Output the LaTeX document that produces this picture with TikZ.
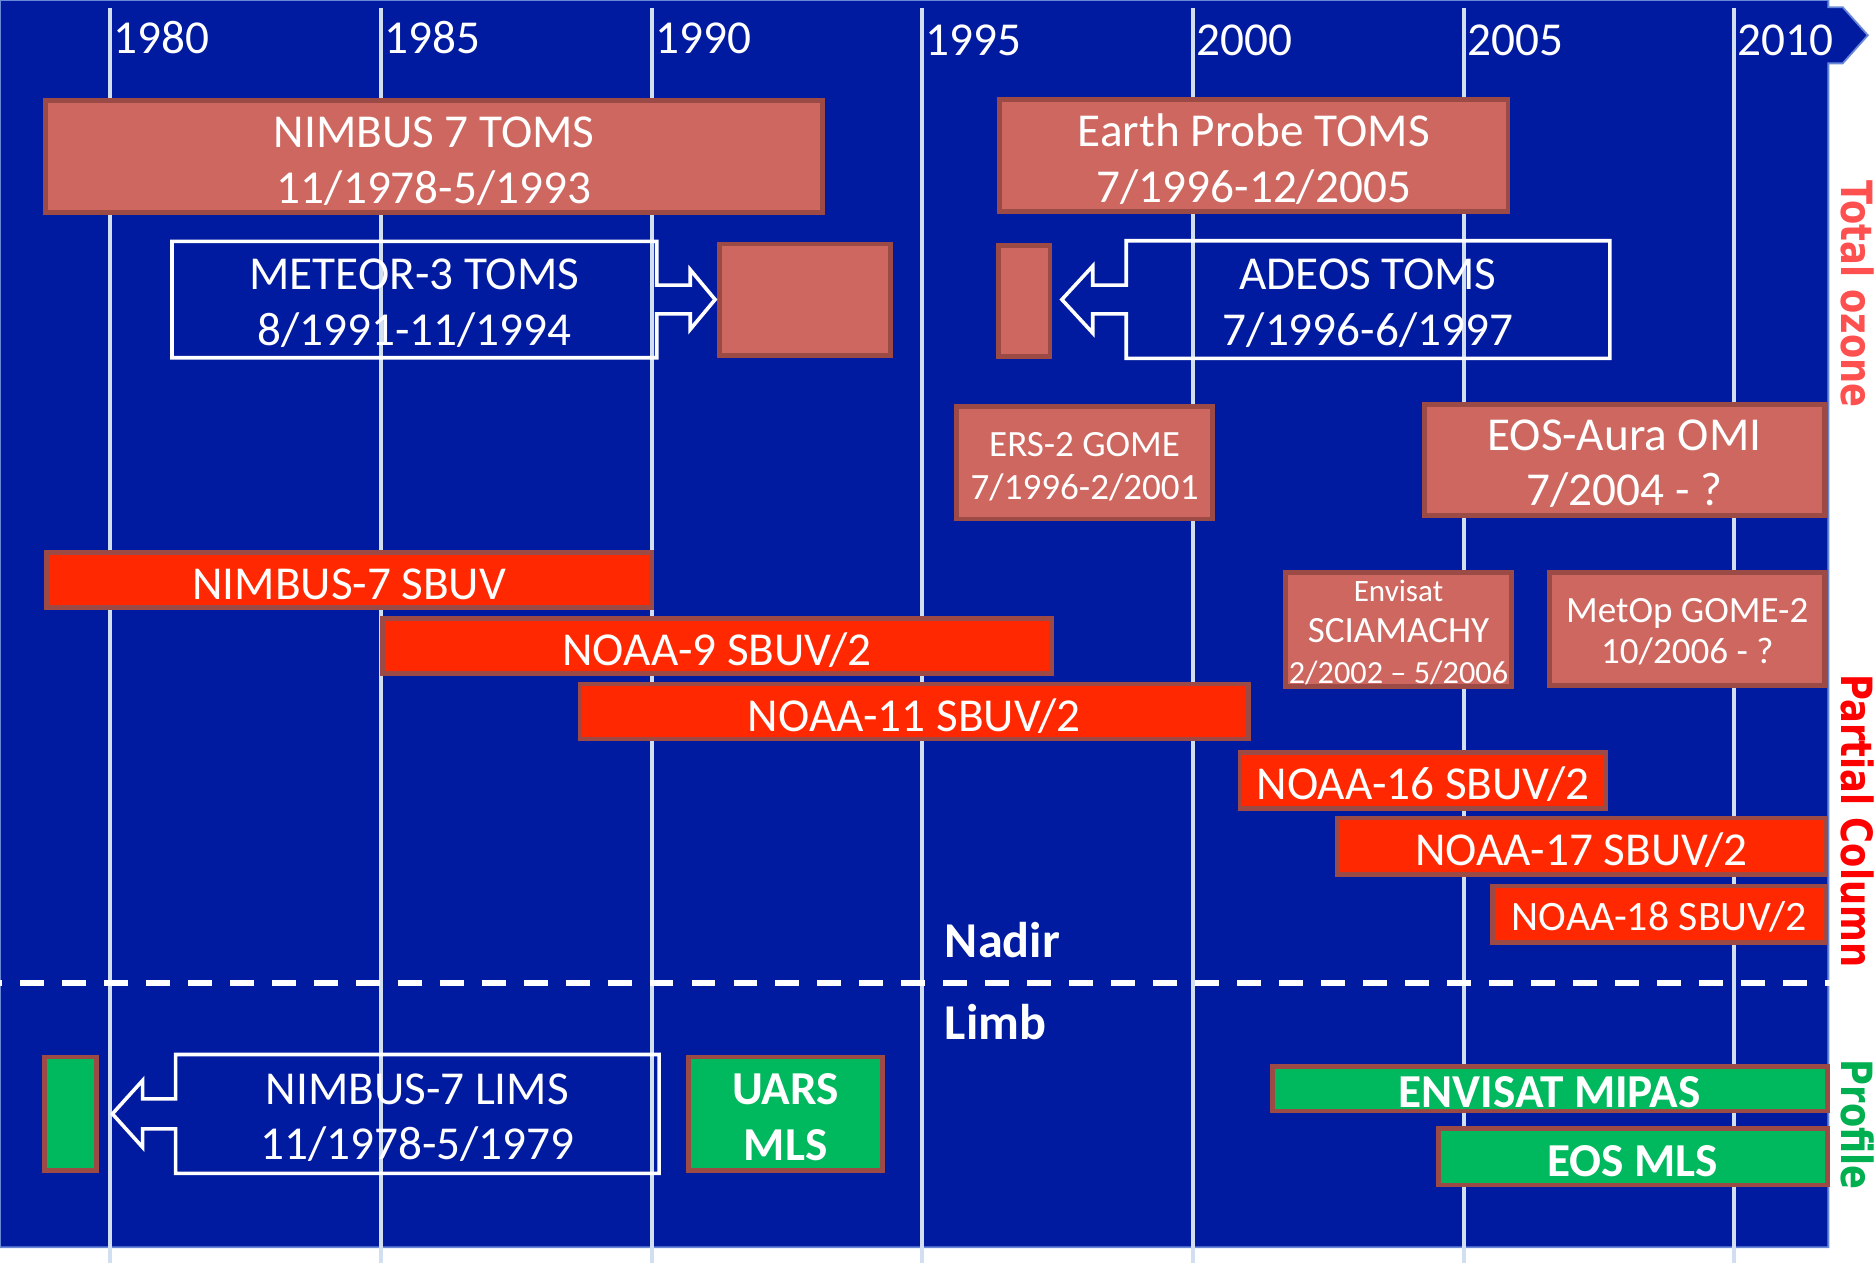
\documentclass[tikz,border=0pt]{standalone}
\usepackage{graphicx}
\usepackage{fontspec}
\setmainfont{Carlito}
\newfontfamily\sidefont{DejaVu Sans}
\usetikzlibrary{calc}
\definecolor{bgblue}{HTML}{001AA0}
\definecolor{bgedge}{HTML}{6A88D8}
\definecolor{gridcol}{HTML}{D2DFF0}
\definecolor{salmon}{HTML}{CD675F}
\definecolor{edgebrown}{HTML}{9B4A45}
\definecolor{barred}{HTML}{FF2800}
\definecolor{boxgreen}{HTML}{00B85E}
\definecolor{totalred}{HTML}{FF5050}
\definecolor{partred}{HTML}{FF0000}
\definecolor{profgreen}{HTML}{00B050}
\newcommand\fsmain{\fontsize{39.5}{46.5}\selectfont}
\newcommand\fsnadir{\fontsize{42}{48}\selectfont\bfseries}
\newcommand\fsside{\fontsize{36}{40}\selectfont\sidefont\bfseries}
\tikzset{
  boxbase/.style={line width=4, draw=edgebrown, inner sep=0pt, text=white, align=center},
  salmonbox/.style={boxbase, fill=salmon},
  redbar/.style={boxbase, fill=barred, font=\fsmain, text height=33pt, text depth=0pt},
  greenbox/.style={boxbase, fill=boxgreen, font=\fsmain\bfseries},
  twoline/.style={font=\fsmain, text height=78pt, text depth=0pt},
  calloutbox/.style={draw=none, inner sep=0pt, text=white, align=center, font=\fsmain, text height=77pt, text depth=0pt},
  calloutline/.style={draw=white, line width=3},
  gridline/.style={draw=gridcol, line width=3.5},
  yearlab/.style={text=white, font=\fsmain, anchor=base west, inner sep=0pt},
  sidelab/.style={rotate=-90, anchor=base, inner sep=0pt, font=\fsside},
  sectionlab/.style={text=white, font=\fsnadir, anchor=base west, inner sep=0pt}
}
\begin{document}
\begin{tikzpicture}[x=1pt,y=-1pt]
\path[use as bounding box, clip] (0,0) rectangle (1568,1056);
% background with arrow head
\filldraw[fill=bgblue, draw=bgedge, line width=1.5] (0,0) -- (1529,0) -- (1529,6) -- (1541,6) -- (1562,29.5) -- (1541,53) -- (1529,53) -- (1529,1043) -- (0,1043) -- cycle;
% grid lines
\foreach \gx in {92,318.5,545,771,997.5,1224,1450}
  \draw[gridline] (\gx,7) -- (\gx,1060);
% year labels
\node[yearlab] (y1980) at (95,45) {1980};
\node[yearlab] (y1985) at (321.5,45) {1985};
\node[yearlab] (y1990) at (548,45) {1990};
\node[yearlab] (y1995) at (774,46) {1995};
\node[yearlab] (y2000) at (1000.5,46) {2000};
\node[yearlab] (y2005) at (1227,46) {2005};
\node[yearlab] (y2010) at (1453,46) {2010};
% nadir / limb separator
\coordinate (sepL) at (-18.4,822);
\coordinate (sepR) at (1530,822);
\draw[white, line width=5, dash pattern=on 20pt off 15.1pt] (sepL) -- (sepR);
\node[sectionlab] (nadir) at (790,801) {Nadir};
\node[sectionlab] (limb) at (790,869.5) {Limb};
% total ozone boxes
\node[salmonbox, twoline, minimum width=650, minimum height=94] (n7toms) at (363,131) {NIMBUS 7 TOMS\\11/1978-5/1993};
\node[salmonbox, twoline, minimum width=425, minimum height=94] (eptoms) at (1048.5,130) {Earth Probe TOMS\\7/1996-12/2005};
\node[salmonbox, minimum width=143, minimum height=93] (meteorbox) at (673.5,250.5) {};
\node[salmonbox, minimum width=43, minimum height=93] (adeosbox) at (856.5,251.5) {};
\node[salmonbox, font=\fontsize{31}{36}\selectfont, text height=62pt, text depth=0pt, minimum width=214, minimum height=94] (ers2) at (907,387) {ERS-2 GOME\\7/1996-2/2001};
\node[salmonbox, font=\fontsize{39.5}{46.5}\selectfont, text height=77pt, text depth=0pt, minimum width=335, minimum height=93] (omi) at (1358.5,384.5) {EOS-Aura OMI\\7/2004 - ?};
\node[salmonbox, font=\fontsize{31}{34.5}\selectfont, text height=91pt, text depth=0pt, minimum width=189, minimum height=95] (sciam) at (1169.5,526.5) {{\fontsize{26}{30}\selectfont Envisat}\\SCIAMACHY\\{\fontsize{27}{30}\selectfont 2/2002 – 5/2006}};
\node[salmonbox, font=\fontsize{31}{34.5}\selectfont, text height=58pt, text depth=0pt, minimum width=230, minimum height=94] (gome2) at (1411,526) {MetOp GOME-2\\10/2006 - ?};
% partial column bars
\node[redbar, minimum width=506, minimum height=46] (n7sbuv) at (292,485) {NIMBUS-7 SBUV};
\node[redbar, minimum width=559, minimum height=46] (noaa9) at (599.5,540) {NOAA-9 SBUV/2};
\node[redbar, minimum width=559, minimum height=46] (noaa11) at (764.5,595) {NOAA-11 SBUV/2};
\node[redbar, minimum width=306, minimum height=47] (noaa16) at (1190,652.5) {NOAA-16 SBUV/2};
\node[redbar, minimum width=409, minimum height=47] (noaa17) at (1322.5,707.5) {NOAA-17 SBUV/2};
\node[redbar, font=\fontsize{35}{40}\selectfont, text height=28pt, minimum width=279, minimum height=47] (noaa18) at (1387.5,764.5) {NOAA-18 SBUV/2};
% profile boxes
\node[greenbox, minimum width=44, minimum height=95] (limsbox) at (59,931.5) {};
\node[greenbox, text height=78pt, text depth=0pt, minimum width=162, minimum height=95] (uars) at (657,931.5) {UARS\\MLS};
\node[greenbox, text height=31pt, text depth=0pt, minimum width=464, minimum height=37] (mipas) at (1296,910.5) {ENVISAT MIPAS};
\node[greenbox, text height=32pt, text depth=0pt, minimum width=325, minimum height=47] (eosmls) at (1365.5,967.5) {EOS MLS};
% callouts
\node[calloutbox, minimum width=405, minimum height=97] (meteor) at (346.5,250.5) {METEOR-3 TOMS\\8/1991-11/1994};
\draw[calloutline] (meteor.north west) -- (meteor.north east) -- ($(meteor.east)+(0,-12)$) -- ++(28,0) -- ++(0,-13) -- ($(meteorbox.west)+(-2,0)$) -- ($(meteor.east)+(28,25)$) -- ++(0,-13) -- ($(meteor.east)+(0,12)$) -- (meteor.south east) -- (meteor.south west) -- cycle;
\node[calloutbox, minimum width=404, minimum height=98] (adeos) at (1144,250.5) {ADEOS TOMS\\7/1996-6/1997};
\draw[calloutline] (adeos.north east) -- (adeos.north west) -- ($(adeos.west)+(0,-12)$) -- ++(-28,0) -- ++(0,-16) -- ($(adeosbox.east)+(8,-1)$) -- ($(adeos.west)+(-28,28)$) -- ++(0,-16) -- ($(adeos.west)+(0,12)$) -- (adeos.south west) -- (adeos.south east) -- cycle;
\node[calloutbox, minimum width=404, minimum height=99] (lims) at (349,931.5) {NIMBUS-7 LIMS\\11/1978-5/1979};
\draw[calloutline] (lims.north east) -- (lims.north west) -- ($(lims.west)+(0,-12.5)$) -- ++(-27.5,0) -- ++(0,-15.5) -- ($(limsbox.east)+(11,0)$) -- ($(lims.west)+(-27.5,28)$) -- ++(0,-15.5) -- ($(lims.west)+(0,12.5)$) -- (lims.south west) -- (lims.south east) -- cycle;
% side labels
\node[sidelab, text=totalred] (totlab) at (1540,246) {\scalebox{0.82}[1]{Total ozone}};
\node[sidelab, text=partred] (partlab) at (1540,686.5) {\scalebox{0.82}[1]{Partial Column}};
\node[sidelab, text=profgreen] (proflab) at (1540,940.5) {\scalebox{0.82}[1]{Profile}};
\end{tikzpicture}
\end{document}
